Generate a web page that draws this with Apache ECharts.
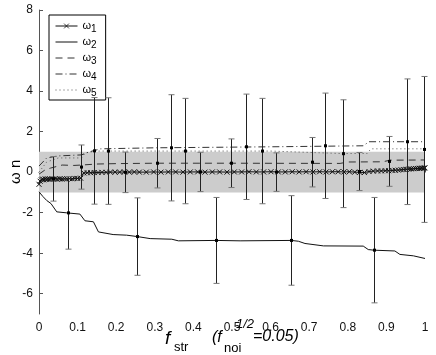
<!DOCTYPE html>
<html>
<head>
<meta charset="utf-8">
<script src="https://cdn.jsdelivr.net/npm/echarts@6/dist/echarts.min.js"></script>
<style>
  html, body { margin: 0; padding: 0; background: #fff; }
  #chart { width: 436px; height: 355px; }
</style>
</head>
<body>
<div id="chart"></div>
<script>
// omega_1 (with x markers)
var w1X = [0, 0.003, 0.006, 0.009, 0.012, 0.016, 0.020, 0.024, 0.028, 0.033, 0.038, 0.043, 0.048, 0.054, 0.060,
  0.066, 0.072, 0.079, 0.086, 0.093, 0.100, 0.108, 0.116, 0.125, 0.134, 0.143, 0.153, 0.163, 0.174, 0.185,
  0.197, 0.209, 0.221, 0.234, 0.247, 0.260, 0.278, 0.297, 0.316, 0.335, 0.354, 0.373, 0.392, 0.411, 0.430,
  0.449, 0.468, 0.487, 0.506, 0.525, 0.544, 0.563, 0.582, 0.601, 0.620, 0.638, 0.656, 0.674, 0.692, 0.710,
  0.727, 0.744, 0.760, 0.775, 0.790, 0.804, 0.818, 0.831, 0.843, 0.855, 0.866, 0.877, 0.887, 0.897, 0.906,
  0.915, 0.923, 0.931, 0.938, 0.945, 0.952, 0.958, 0.964, 0.970, 0.975, 0.980, 0.985, 0.989, 0.993, 0.997, 1.0];
var w1Y = [-0.60, -0.45, -0.38, -0.34, -0.38, -0.33, -0.36, -0.34, -0.35, -0.33, -0.34, -0.33, -0.35, -0.33, -0.34,
  -0.33, -0.33, -0.32, -0.33, -0.31, -0.31, -0.30, -0.04, -0.03, -0.03, -0.02, -0.02, -0.01, -0.01, 0.00,
  0.00, 0.00, 0.01, 0.00, 0.01, 0.00, 0.00, 0.01, 0.00, 0.01, 0.01, 0.00, 0.01, 0.01, 0.00,
  0.01, 0.01, 0.00, 0.01, 0.01, 0.02, 0.01, 0.01, 0.02, 0.01, 0.01, 0.02, 0.01, 0.02, 0.01,
  0.02, 0.01, 0.02, 0.02, 0.01, 0.02, 0.00, -0.01, -0.02, 0.03, 0.05, 0.06, 0.06, 0.07, 0.07,
  0.08, 0.09, 0.10, 0.12, 0.13, 0.14, 0.15, 0.16, 0.17, 0.18, 0.18, 0.19, 0.19, 0.20, 0.20, 0.21];

// omega_2 (solid)
var w2X = [0, 0.010, 0.020, 0.031, 0.046, 0.072, 0.106, 0.119, 0.141, 0.154, 0.192, 0.227, 0.255, 0.288, 0.344,
  0.361, 0.458, 0.521, 0.654, 0.672, 0.689, 0.737, 0.840, 0.853, 0.867, 0.922, 0.935, 0.970, 1.0];
var w2Y = [-0.97, -1.20, -1.40, -1.55, -1.96, -2.01, -2.07, -2.40, -2.45, -2.95, -3.08, -3.11, -3.18, -3.28, -3.31,
  -3.39, -3.37, -3.39, -3.37, -3.41, -3.52, -3.64, -3.65, -3.82, -3.85, -3.89, -4.06, -4.13, -4.26];

// omega_3 (dashed)
var w3X = [0, 0.015, 0.030, 0.060, 0.090, 0.110, 0.150, 0.200, 0.300, 0.500, 0.780, 0.800, 0.890, 0.910, 1.0];
var w3Y = [-0.10, 0.10, 0.20, 0.35, 0.33, 0.35, 0.40, 0.42, 0.44, 0.44, 0.43, 0.50, 0.51, 0.59, 0.60];

// omega_4 (dash-dot)
var w4X = [0, 0.020, 0.050, 0.110, 0.130, 0.160, 0.300, 0.600, 0.840, 0.855, 1.0];
var w4Y = [0.30, 0.70, 0.80, 0.85, 1.00, 1.15, 1.20, 1.25, 1.30, 1.50, 1.50];

// omega_5 (dotted)
var w5X = [0, 0.020, 0.050, 0.110, 0.120, 0.150, 0.600, 0.780, 0.850, 0.860, 1.0];
var w5Y = [0.00, 0.50, 0.70, 0.70, 0.95, 1.04, 1.04, 0.92, 0.92, 1.15, 1.15];

// error bars: x, mean, half-width
var barX    = [0.036, 0.074, 0.110, 0.142, 0.180, 0.224, 0.255, 0.306, 0.342, 0.379, 0.418, 0.458, 0.497,
  0.537, 0.577, 0.615, 0.654, 0.707, 0.741, 0.788, 0.830, 0.867, 0.908, 0.953, 0.998];
var barMean = [-0.33, -2.01, 0.25, 1.05, 1.04, -0.01, -3.18, 0.44, 1.20, 1.04, 0.01, -3.37, 0.44,
  1.25, 1.04, 0.00, -3.37, 0.49, 1.30, 0.91, 0.03, -3.85, 0.53, 1.50, 1.12];
var barErr  = [1.10, 1.79, 1.09, 2.63, 2.63, 1.00, 1.91, 1.22, 2.62, 2.60, 0.97, 2.12, 1.20,
  2.60, 2.60, 0.95, 2.21, 1.22, 2.60, 2.66, 0.94, 2.60, 1.23, 3.10, 3.60];

var names = ['ω1', 'ω2', 'ω3', 'ω4', 'ω5'];
var yTicks = [-6, -4, -2, 0, 2, 4, 6, 8];

function pairs(xs, ys) {
  return xs.map(function (x, i) { return [x, ys[i]]; });
}

var bars = barX.map(function (x, i) { return [x, barMean[i], barErr[i]]; });

function renderBar(params, api) {
  var x = api.value(0), m = api.value(1), e = api.value(2);
  var top = api.coord([x, m + e]);
  var bot = api.coord([x, m - e]);
  var mid = api.coord([x, m]);
  var px = Math.round(top[0]) + 0.5;
  var w = 3;
  return {
    type: 'group',
    children: [
      { type: 'line', shape: { x1: px, y1: top[1], x2: px, y2: bot[1] }, style: { stroke: '#222', lineWidth: 1 } },
      { type: 'line', shape: { x1: px - w, y1: top[1], x2: px + w, y2: top[1] }, style: { stroke: '#777', lineWidth: 1 } },
      { type: 'line', shape: { x1: px - w, y1: bot[1], x2: px + w, y2: bot[1] }, style: { stroke: '#777', lineWidth: 1 } },
      { type: 'rect', shape: { x: px - 1.5, y: mid[1] - 1.5, width: 3, height: 3 }, style: { fill: '#000' } }
    ]
  };
}

var chart = echarts.init(document.getElementById('chart'));
var font = 'Liberation Sans, Arial, sans-serif';

var legendData = names.map(function (n, i) {
  return { name: n, itemStyle: { opacity: i === 0 ? 1 : 0, borderWidth: 0.8 } };
});

var option = {
  backgroundColor: '#fff',
  animation: false,
  textStyle: { fontFamily: font },
  grid: { left: 39, right: 11, top: 10, bottom: 41 },
  legend: {
    data: legendData,
    orient: 'vertical',
    left: 49,
    top: 15,
    backgroundColor: '#fff',
    borderColor: '#000',
    borderWidth: 1,
    borderRadius: 0,
    padding: [3, 9, 2, 6],
    itemGap: 0,
    itemWidth: 22,
    itemHeight: 6,
    lineStyle: { width: 1 },
    formatter: function (n) { return '{w|ω}{s|' + n.slice(1) + '}'; },
    textStyle: {
      color: '#000',
      rich: {
        w: { fontSize: 11, lineHeight: 14, fontFamily: font, color: '#000' },
        s: { fontSize: 10, lineHeight: 14, fontFamily: font, color: '#000', padding: [6, 0, 0, 0] }
      }
    }
  },
  xAxis: {
    type: 'value',
    min: 0,
    max: 1,
    interval: 0.1,
    axisLine: { lineStyle: { color: '#555' } },
    axisTick: { inside: true, length: 4, lineStyle: { color: '#555' } },
    axisLabel: { color: '#111', fontSize: 12, margin: 8 },
    splitLine: { show: false }
  },
  yAxis: {
    type: 'value',
    min: -7,
    max: 8,
    axisLine: { show: true, lineStyle: { color: '#555' } },
    axisTick: { show: true, inside: true, length: 4, customValues: yTicks, lineStyle: { color: '#555' } },
    axisLabel: { color: '#111', fontSize: 12, margin: 6, customValues: yTicks },
    splitLine: { show: false }
  },
  series: [
    {
      name: 'band', type: 'line', data: [], z: 0, silent: true,
      markArea: { silent: true, itemStyle: { color: '#cccccc' }, data: [[{ yAxis: -1 }, { yAxis: 1 }]] }
    },
    {
      name: 'ω5', type: 'line', data: pairs(w5X, w5Y), symbol: 'none', z: 2,
      lineStyle: { color: '#555', width: 1, type: [1, 3] }, itemStyle: { color: '#555' }
    },
    {
      name: 'ω4', type: 'line', data: pairs(w4X, w4Y), symbol: 'none', z: 2,
      lineStyle: { color: '#333', width: 1, type: [7, 3, 1, 3] }, itemStyle: { color: '#333' }
    },
    {
      name: 'ω3', type: 'line', data: pairs(w3X, w3Y), symbol: 'none', z: 2,
      lineStyle: { color: '#333', width: 1, type: [7, 5] }, itemStyle: { color: '#333' }
    },
    {
      name: 'ω2', type: 'line', data: pairs(w2X, w2Y), symbol: 'none', z: 2,
      lineStyle: { color: '#111', width: 1 }, itemStyle: { color: '#111' }
    },
    {
      name: 'ω1', type: 'line', data: pairs(w1X, w1Y), z: 3,
      symbol: 'path://M0,0L10,10M10,0L0,10', symbolSize: 5, showSymbol: true,
      lineStyle: { color: '#111', width: 1 },
      itemStyle: { color: '#111', borderColor: '#111', borderWidth: 1 }
    },
    {
      name: 'bars', type: 'custom', data: bars, z: 4, silent: true,
      encode: { x: 0, y: 1 },
      renderItem: renderBar
    }
  ],
  graphic: [
    { type: 'text', left: 165, top: 329, style: { text: 'f', font: 'italic 19px ' + font, fill: '#000' } },
    { type: 'text', left: 174, top: 341, style: { text: 'str', font: '13px ' + font, fill: '#000' } },
    { type: 'text', left: 212, top: 330, style: { text: '(f', font: 'italic 16px ' + font, fill: '#000' } },
    { type: 'text', left: 224, top: 342, style: { text: 'noi', font: '13px ' + font, fill: '#000' } },
    { type: 'text', left: 236, top: 318, style: { text: '1/2', font: 'italic 13px ' + font, fill: '#000' } },
    { type: 'text', left: 253, top: 329, style: { text: '=0.05)', font: 'italic 16px ' + font, fill: '#000' } },
    {
      type: 'text', x: 8, y: 184, rotation: Math.PI / 2,
      style: { text: 'ω n', font: '15px ' + font, fill: '#000' }
    }
  ]
};

chart.setOption(option);
</script>
</body>
</html>
